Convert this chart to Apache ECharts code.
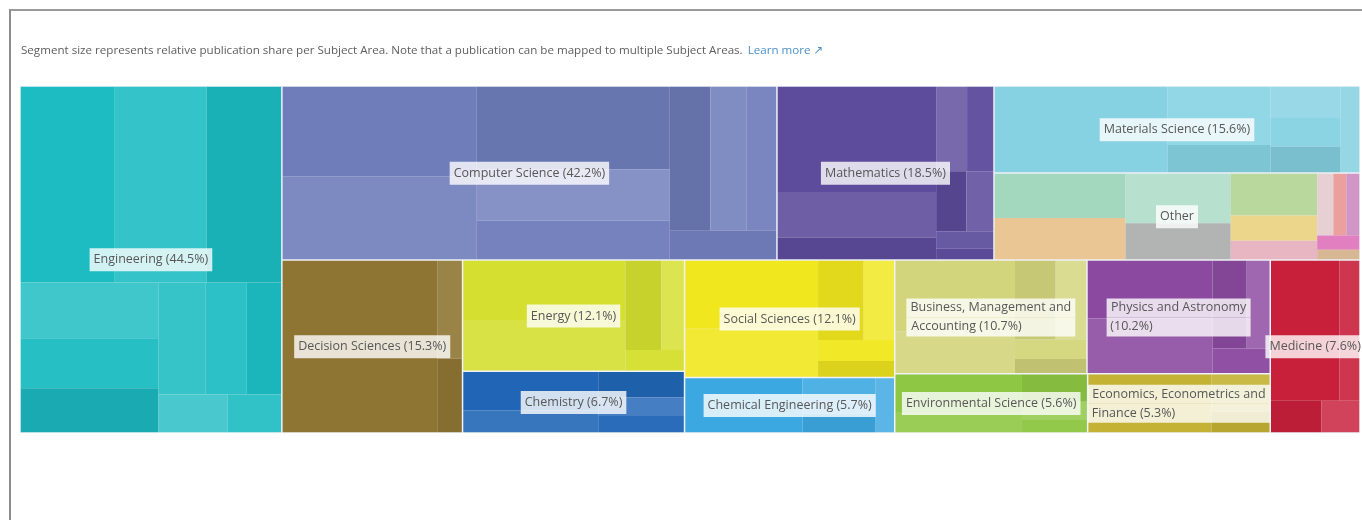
<!DOCTYPE html>
<html>
<head>
<meta charset="utf-8">
<script src="https://cdn.jsdelivr.net/npm/echarts@6/dist/echarts.min.js"></script>
<style>
html,body{margin:0;padding:0;background:#ffffff;}
#chart{position:absolute;left:0;top:0;width:1362px;height:520px;}
#frame{position:absolute;left:9px;top:9px;width:1353px;height:511px;box-sizing:border-box;border-top:2px solid #9a9a9a;border-left:2px solid #8c8c8c;pointer-events:none;}
</style>
</head>
<body>
<div id="chart"></div>
<div id="frame"></div>
<script>
// ---------------- DATA ----------------
const subjects = [
  'Engineering', 'Computer Science', 'Mathematics', 'Materials Science', 'Other',
  'Decision Sciences', 'Energy', 'Social Sciences', 'Business, Management and Accounting',
  'Physics and Astronomy', 'Medicine', 'Chemistry', 'Chemical Engineering',
  'Environmental Science', 'Economics, Econometrics and Finance'
];
const shares = [44.5, 42.2, 18.5, 15.6, 15.6, 15.3, 12.1, 12.1, 10.7, 10.2, 7.6, 6.7, 5.7, 5.6, 5.3];
// unlabeled sub-segments inside each subject area
const subTiles = [
  [9.1, 8.9, 7.2, 3.8, 3.4, 3.0, 2.6, 2.3, 1.9, 1.3, 1.0],
  [8.6, 8.0, 7.9, 4.9, 3.7, 2.9, 2.6, 2.1, 1.5],
  [8.3, 3.6, 1.7, 1.3, 1.1, 0.9, 0.8, 0.5, 0.3],
  [7.4, 3.0, 1.4, 1.1, 1.0, 0.9, 0.8],
  [2.9, 2.7, 2.6, 1.9, 1.8, 1.1, 0.8, 0.5, 0.4, 0.4, 0.3, 0.2],
  [13.2, 1.2, 0.9],
  [4.8, 4.1, 1.6, 1.0, 0.6],
  [4.5, 3.2, 1.8, 1.2, 0.8, 0.6],
  [4.2, 2.5, 1.6, 1.2, 0.7, 0.5],
  [3.6, 3.4, 1.5, 1.0, 0.7],
  [4.8, 1.4, 0.8, 0.6],
  [2.6, 1.5, 1.1, 0.8, 0.7],
  [3.2, 1.3, 0.7, 0.5],
  [2.4, 1.3, 0.9, 0.6, 0.4],
  [3.6, 1.1, 0.6]
];
// grouping of subject indices (nesting only, no sizes)
const subjectGroups = [0, [[1, [2, [3, 4]]], [5, [[6, 11], [[7, 12], [[[8, 9], [13, 14]], 10]]]]]];
const captionText = 'Segment size represents relative publication share per Subject Area. Note that a publication can be mapped to multiple Subject Areas.';
const linkText = 'Learn more \u2197';

// ---------------- STYLE ----------------
const baseColors = ['#1cbcc2', '#6f7dbb', '#5d4c9c', '#86d2e2', '#cccccc', '#8f7533', '#d5df2f', '#f0e71f',
  '#d3d57c', '#8b4aa0', '#c81f3a', '#2166b6', '#3ca8e2', '#8ec743', '#c3b234'];
const otherTileColors = ['#a3d7be', '#e9c693', '#b7e0cf', '#b2b3b3', '#b8d89e', '#ebd68c', '#e8b6c3',
  '#e7d0d3', '#eca09e', '#cf96c6', '#e27fc1', '#d8b794'];
const shadeSteps = [0, 0.1, -0.06, 0.16, 0.04, -0.09, 0.12, 0.07, -0.03, 0.2, 0.09, -0.08];
const wrapFirstLine = {8: 'Business, Management and', 9: 'Physics and Astronomy', 14: 'Economics, Econometrics and'};
const FONT = '"Open Sans", "DejaVu Sans", sans-serif';
const FONT_SIZE = 12.5;
const TEXT_COLOR = '#575757';
const BOX_COLOR = 'rgba(255,255,255,0.8)';
const richOne = {fontFamily: FONT, fontSize: FONT_SIZE, fontWeight: 'normal', color: TEXT_COLOR, backgroundColor: BOX_COLOR, padding: [5, 4]};
const richTwo = {fontFamily: FONT, fontSize: FONT_SIZE, fontWeight: 'normal', color: TEXT_COLOR, backgroundColor: BOX_COLOR, padding: [3, 4]};
const CLEAR = 'rgba(0,0,0,0)';

function shade(hex, f) {
  const n = parseInt(hex.slice(1), 16);
  const c = [n >> 16, (n >> 8) & 255, n & 255];
  const t = f > 0 ? 255 : 0, p = Math.abs(f);
  const o = c.map(v => Math.round(v + (t - v) * p));
  return 'rgb(' + o.join(',') + ')';
}
function labelText(i) {
  return i === 4 ? subjects[i] : subjects[i] + ' (' + shares[i].toFixed(1) + '%)';
}
const measureCtx = document.createElement('canvas').getContext('2d');
measureCtx.font = FONT_SIZE + 'px "Open Sans"';
const tw = s => measureCtx.measureText(s).width;
// pad the shorter line with trailing spaces so both lines read left-aligned inside one box
function padTo(s, w) { let r = s; while (tw(r + ' ') <= w + 1) r += ' '; return r; }

function tileNode(i) {
  const cols = i === 4 ? otherTileColors
    : subTiles[i].map((v, j) => shade(baseColors[i], shadeSteps[j % shadeSteps.length]));
  return {
    name: labelText(i), value: shares[i],
    itemStyle: {borderWidth: 0.75, borderColor: '#eef0f5'},
    children: subTiles[i].map((v, j) => ({name: '', value: v, itemStyle: {color: cols[j], borderWidth: 0}}))
  };
}
function labelNode(i) {
  const full = labelText(i);
  const first = wrapFirstLine[i];
  let label;
  if (first) {
    const second = full.slice(first.length).trim();
    const w = Math.ceil(Math.max(tw(first), tw(second)));
    label = {
      formatter: '{m|' + padTo(first, w) + '}\n{m|' + padTo(second, w) + '}',
      offset: [0, -(FONT_SIZE + 6)],
      rich: {m: Object.assign({}, richTwo, {width: w})}
    };
  } else {
    label = {formatter: '{s|' + full + '}', offset: [0, -(FONT_SIZE + 10) / 2]};
  }
  return {name: full, value: shares[i], label: label,
    itemStyle: {color: CLEAR, borderColor: CLEAR, borderWidth: 0}};
}
function build(g, leaf) {
  if (typeof g === 'number') return leaf(g);
  return {name: '', children: g.map(c => build(c, leaf)),
    itemStyle: {color: CLEAR, borderColor: CLEAR, borderWidth: 0}};
}

const common = {
  type: 'treemap', left: 20, top: 86, width: 1340, height: 347,
  squareRatio: 3.2, sort: false, roam: false, nodeClick: false,
  breadcrumb: {show: false}, animation: false
};

const chart = echarts.init(document.getElementById('chart'), null, {renderer: 'canvas'});
chart.setOption({
  backgroundColor: 'transparent',
  animation: false,
  title: {
    left: 21, top: 42, padding: 0,
    text: '{c|' + captionText + '} {l|' + linkText + '}',
    textStyle: {fontWeight: 'normal', rich: {
      c: {fontFamily: FONT, fontSize: 11.6, fontWeight: 'normal', color: '#5e5e5e'},
      l: {fontFamily: FONT, fontSize: 11.6, fontWeight: 'normal', color: '#4a90c9'}
    }}
  },
  series: [
    Object.assign({}, common, {
      name: 'segments', z: 2,
      label: {show: false}, upperLabel: {show: false},
      itemStyle: {borderWidth: 0, gapWidth: 0, borderColor: CLEAR},
      data: subjectGroups.map(g => build(g, tileNode))
    }),
    Object.assign({}, common, {
      name: 'labels', z: 10, zlevel: 1,
      upperLabel: {show: false},
      itemStyle: {color: CLEAR, borderWidth: 0, gapWidth: 0, borderColor: CLEAR},
      label: {show: true, position: 'inside', align: 'center', verticalAlign: 'top',
        padding: 0, overflow: 'none', rich: {s: richOne}},
      data: subjectGroups.map(g => build(g, labelNode))
    })
  ]
});
</script>
</body>
</html>
